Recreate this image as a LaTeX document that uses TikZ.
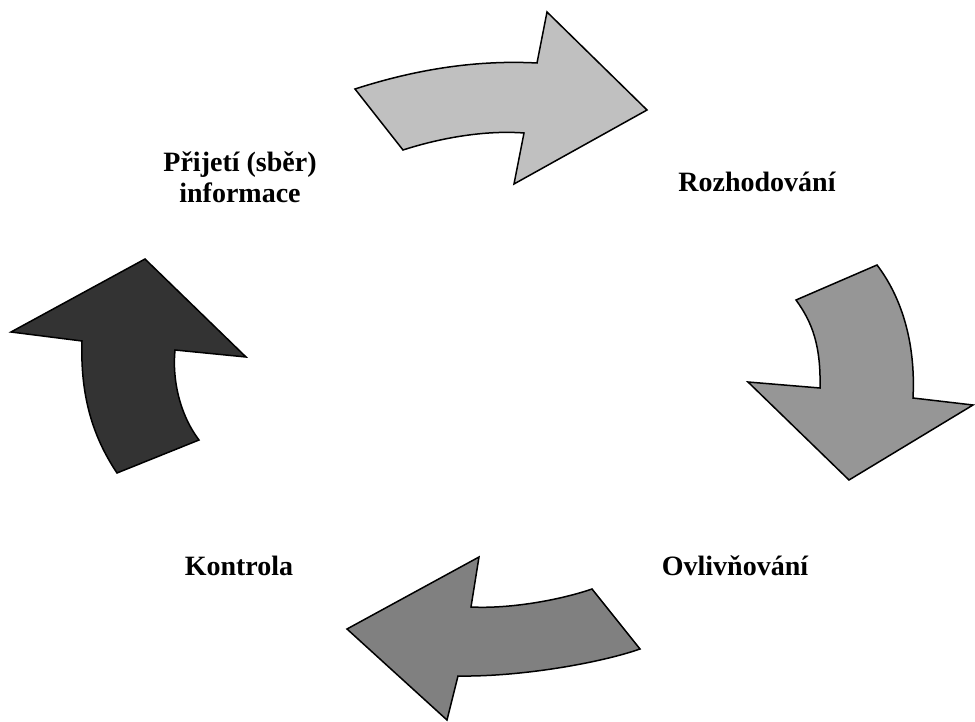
\documentclass[tikz,border=0pt]{standalone}
\usepackage{fontspec}
\setmainfont{Liberation Serif}
\begin{document}
\begin{tikzpicture}[x=1pt,y=-1pt,
  cyclearrow/.style={draw=black,line width=1.5pt,line join=miter},
  stagelabel/.style={font=\bfseries\fontsize{28}{31}\selectfont,align=center,inner sep=0pt,anchor=base}]
\useasboundingbox (0,0) rectangle (975,722);
% gathering -> deciding
\path[cyclearrow,fill={rgb,255:red,192;green,192;blue,192}]
  (355,89) .. controls (420,68) and (480,60) .. (537,63)
  -- (547,12) -- (647,110) -- (514,184) -- (524,133)
  .. controls (485,130) and (440,138) .. (403,150) -- cycle;
% deciding -> influencing
\path[cyclearrow,fill={rgb,255:red,150;green,150;blue,150}]
  (877,265) -- (796,300)
  .. controls (812,322) and (821,345) .. (820,388)
  -- (748,382) -- (849,480) -- (973,405) -- (913,398)
  .. controls (916,340) and (900,295) .. (877,265) -- cycle;
% influencing -> control
\path[cyclearrow,fill={rgb,255:red,128;green,128;blue,128}]
  (347,629) -- (479,557) -- (471,607)
  .. controls (510,609) and (560,600) .. (592,589)
  -- (640,649)
  .. controls (600,663) and (520,677) .. (458,676)
  -- (447,720) -- cycle;
% control -> gathering
\path[cyclearrow,fill={rgb,255:red,51;green,51;blue,51}]
  (145,259) -- (246,357) -- (175,350)
  .. controls (172,380) and (180,415) .. (199,440)
  -- (117,473)
  .. controls (95,440) and (80,400) .. (82,341)
  -- (11,332) -- cycle;
% stage names (base anchor sits on the last line)
\node[stagelabel] (gather) at (240,203) {Přijetí (sběr)\\informace};
\node[stagelabel] (decide) at (757,192) {Rozhodování};
\node[stagelabel] (influence) at (735,575) {Ovlivňování};
\node[stagelabel] (control) at (239,575) {Kontrola};
\end{tikzpicture}
\end{document}
